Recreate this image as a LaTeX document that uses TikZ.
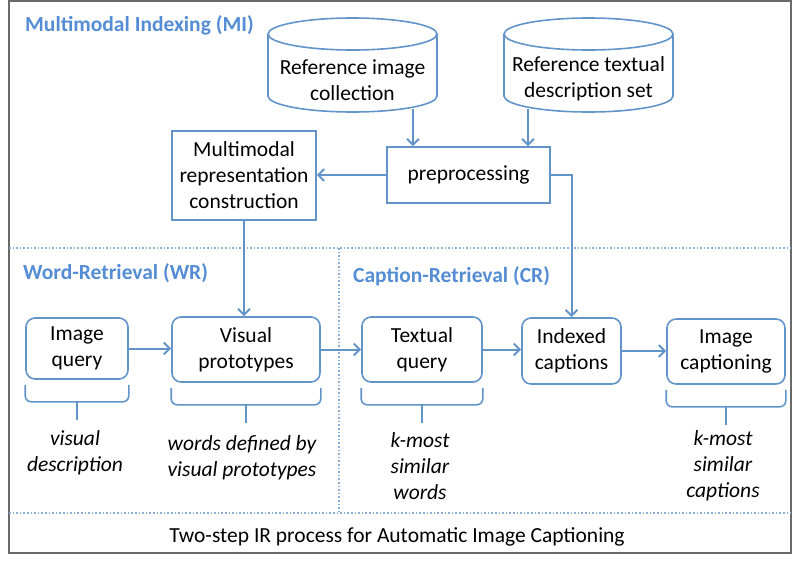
\documentclass[tikz,border=0pt]{standalone}
\usepackage{fontspec}
\setmainfont{Carlito}
\usepackage{tikz}
\usetikzlibrary{arrows.meta,positioning,calc}

\definecolor{lineblue}{RGB}{98,148,202}
\definecolor{titleblue}{RGB}{84,141,212}
\definecolor{dotblue}{RGB}{140,175,215}
\definecolor{framegray}{RGB}{105,105,105}

\begin{document}
\begin{tikzpicture}[
    x=1pt, y=-1pt,
    font=\fontsize{21.5}{26}\selectfont,
    box/.style={rectangle, draw=lineblue, line width=1.6pt, align=center, inner sep=0pt},
    rbox/.style={box, rounded corners=9pt},
    dbtext/.style={align=center, inner sep=0pt},
    cyl/.style={draw=lineblue, line width=1.6pt},
    arrow/.style={-{Straight Barb[length=6pt,width=12pt]}, draw=lineblue, line width=2pt},
    brace/.style={draw=lineblue, line width=1.6pt, rounded corners=6pt},
    sep/.style={draw=dotblue, line width=1.6pt, dotted},
    heading/.style={font=\fontsize{21.5}{26}\selectfont\bfseries, text=titleblue, anchor=west, inner sep=0pt},
    note/.style={font=\fontsize{21.5}{26}\selectfont\itshape, align=center, inner sep=0pt}
]
    \useasboundingbox (0,0) rectangle (795,560);

    % frame and section separators
    \draw[framegray, line width=2pt] (9,1) rectangle (791,553);
    \draw[sep] (9,248) -- (791,248);
    \draw[sep] (9,513) -- (791,513);
    \draw[sep] (339,248) -- (339,513);

    \node[heading] (mi) at (25,25) {Multimodal Indexing (MI)};
    \node[heading] (wr) at (23,273) {Word-Retrieval (WR)};
    \node[heading] (cr) at (353,276) {Caption-Retrieval (CR)};

    % databases
    \draw[cyl] (268,34) -- (268,96) arc[start angle=180, end angle=360, x radius=84.5pt, y radius=16pt] -- (437,34);
    \draw[cyl] (352.5,34) ellipse[x radius=84.5pt, y radius=16pt];
    \draw[cyl] (504,34) -- (504,96) arc[start angle=180, end angle=360, x radius=84.5pt, y radius=16pt] -- (673,34);
    \draw[cyl] (588.5,34) ellipse[x radius=84.5pt, y radius=16pt];
    \node[dbtext] (imgdb) at (352.5,80) {Reference image\\collection};
    \node[dbtext] (txtdb) at (588.5,79) {Reference textual\\description set};
    \coordinate (imgout) at (413,109);
    \coordinate (txtout) at (528,109);

    \node[box, minimum width=163pt, minimum height=56pt] (pre) at (468.5,175) {preprocessing};
    \node[box, minimum width=144pt, minimum height=89pt] (mm) at (244,175.5) {Multimodal\\representation\\construction};

    \node[rbox, minimum width=102pt, minimum height=61pt] (imgq) at (77,348.5) {Image\\query};
    \node[rbox, minimum width=148pt, minimum height=65pt] (vis) at (246,349.5) {Visual\\prototypes};
    \node[rbox, minimum width=120pt, minimum height=65pt] (txtq) at (422,349.5) {Textual\\query};
    \node[rbox, minimum width=99pt, minimum height=66pt] (idx) at (571.5,351) {Indexed\\captions};
    \node[rbox, minimum width=118pt, minimum height=65pt] (cap) at (726,351.5) {Image\\captioning};

    \draw[arrow] (imgout) -- (imgout |- pre.north);
    \draw[arrow] (txtout) -- (txtout |- pre.north);
    \draw[arrow] (pre.west) -- (pre.west -| mm.east);
    \draw[arrow] (pre.east) -| (idx.north);
    \draw[arrow] (mm.south) -- (mm.south |- vis.north);
    \draw[arrow] (imgq.east) -- (imgq.east -| vis.west);
    \draw[arrow] (vis.east) -- (vis.east -| txtq.west);
    \draw[arrow] (txtq.east) -- (txtq.east -| idx.west);
    \draw[arrow] (idx.east) -- (idx.east -| cap.west);

    % braces under the boxes
    \foreach \n in {imgq,vis,txtq,cap} {
        \draw[brace] ($(\n.south west)+(0,5)$) |- ($(\n.south)+(0,22)$) -| ($(\n.south east)+(0,5)$);
        \draw[brace] ($(\n.south)+(0,22)$) -- ($(\n.south)+(0,40)$);
    }

    \node[note] (imgqnote) at (75,453) {visual\\description};
    \node[note] (visnote) at (242,458) {words defined by\\visual prototypes};
    \node[note] (txtqnote) at (420,466) {k-most\\similar\\words};
    \node[note] (capnote) at (723,466) {k-most\\similar\\captions};

    \node (caption) at (397,537) {Two-step IR process for Automatic Image Captioning};
\end{tikzpicture}
\end{document}
